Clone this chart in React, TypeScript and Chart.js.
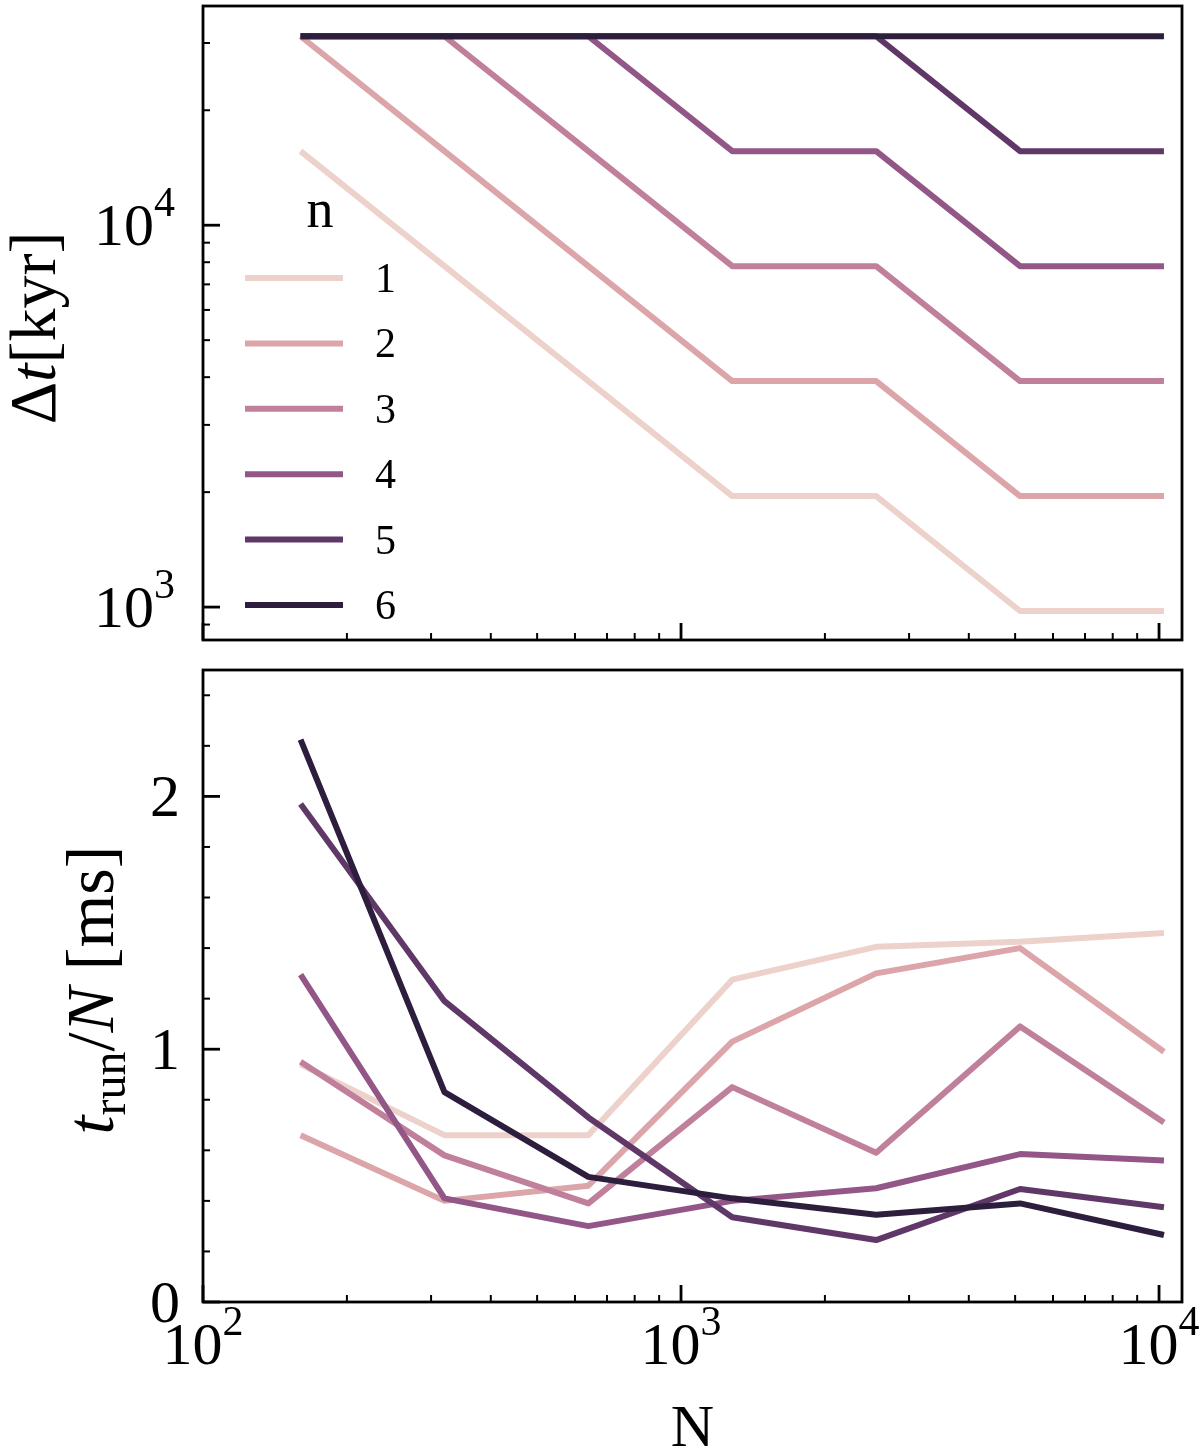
import React, { useEffect, useRef } from "react";
import { Chart, registerables } from "chart.js";

Chart.register(...registerables);

// particle counts N (shared x axis)
const particleCounts = [160, 320, 640, 1280, 2560, 5120, 10240];
const levels = ["1", "2", "3", "4", "5", "6"];
const palette = ["#edd1cb", "#dba5a9", "#c07f9b", "#925787", "#603868", "#2d1e3e"];

// top panel: time step Δt [kyr]
const stepN1 = [15625, 7812.5, 3906.25, 1953.125, 1953.125, 976.5625, 976.5625];
const stepN2 = [31250, 15625, 7812.5, 3906.25, 3906.25, 1953.125, 1953.125];
const stepN3 = [31250, 31250, 15625, 7812.5, 7812.5, 3906.25, 3906.25];
const stepN4 = [31250, 31250, 31250, 15625, 15625, 7812.5, 7812.5];
const stepN5 = [31250, 31250, 31250, 31250, 31250, 15625, 15625];
const stepN6 = [31250, 31250, 31250, 31250, 31250, 31250, 31250];

// bottom panel: run time per particle [ms]
const runN1 = [0.94, 0.66, 0.66, 1.275, 1.405, 1.425, 1.46];
const runN2 = [0.66, 0.4, 0.46, 1.03, 1.3, 1.4, 0.99];
const runN3 = [0.95, 0.58, 0.39, 0.85, 0.59, 1.09, 0.71];
const runN4 = [1.295, 0.41, 0.3, 0.4, 0.45, 0.585, 0.56];
const runN5 = [1.97, 1.19, 0.73, 0.335, 0.245, 0.447, 0.375];
const runN6 = [2.225, 0.83, 0.495, 0.41, 0.345, 0.39, 0.265];

const stepSeries = [stepN1, stepN2, stepN3, stepN4, stepN5, stepN6];
const runSeries = [runN1, runN2, runN3, runN4, runN5, runN6];

const SERIF = '"Liberation Serif", "DejaVu Serif", serif';

type Part = { text: string; size: number; italic?: boolean; dy?: number };

function drawParts(
  ctx: CanvasRenderingContext2D,
  parts: Part[],
  x: number,
  y: number,
  align: "left" | "center" | "right",
  angle = 0
) {
  ctx.save();
  ctx.translate(x, y);
  ctx.rotate(angle);
  ctx.fillStyle = "#000";
  ctx.textBaseline = "alphabetic";
  ctx.textAlign = "left";
  const widths = parts.map((p) => {
    ctx.font = `${p.italic ? "italic " : ""}${p.size}px ${SERIF}`;
    return ctx.measureText(p.text).width;
  });
  const total = widths.reduce((a, b) => a + b, 0);
  let cx = align === "left" ? 0 : align === "center" ? -total / 2 : -total;
  parts.forEach((p, i) => {
    ctx.font = `${p.italic ? "italic " : ""}${p.size}px ${SERIF}`;
    ctx.fillText(p.text, cx, p.dy || 0);
    cx += widths[i];
  });
  ctx.restore();
}

const pow10 = (e: number): Part[] => [
  { text: "10", size: 60 },
  { text: String(e), size: 42, dy: -29 },
];

function logTicks(min: number, max: number) {
  const major: number[] = [];
  const minor: number[] = [];
  for (let e = Math.floor(Math.log10(min)); e <= Math.ceil(Math.log10(max)); e++) {
    for (let m = 1; m <= 9; m++) {
      const v = m * Math.pow(10, e);
      if (v < min || v > max) continue;
      (m === 1 ? major : minor).push(v);
    }
  }
  return { major, minor };
}

type Decor = {
  xLabels: boolean;
  yMajor: number[];
  yMinor: number[];
  yLabel: (v: number) => Part[];
  yLabelGap: number;
  title: (ctx: CanvasRenderingContext2D, area: any) => void;
  legend?: boolean;
};

const makeDecor = (cfg: Decor) => ({
  id: "decor",
  afterDraw(chart: any) {
    const { ctx, chartArea: a, scales } = chart;
    const xs = scales.x;
    const ys = scales.y;
    ctx.save();
    ctx.strokeStyle = "#000";
    ctx.lineWidth = 2.8;
    ctx.strokeRect(a.left, a.top, a.right - a.left, a.bottom - a.top);

    const xt = logTicks(xs.min, xs.max);
    const tick = (x1: number, y1: number, x2: number, y2: number, w: number) => {
      ctx.lineWidth = w;
      ctx.beginPath();
      ctx.moveTo(x1, y1);
      ctx.lineTo(x2, y2);
      ctx.stroke();
    };
    xt.major.forEach((v) => {
      const px = xs.getPixelForValue(v);
      tick(px, a.bottom, px, a.bottom - 17, 2.8);
      if (cfg.xLabels) {
        drawParts(ctx, pow10(Math.round(Math.log10(v))), px, a.bottom + 62, "center");
      }
    });
    xt.minor.forEach((v) => {
      const px = xs.getPixelForValue(v);
      tick(px, a.bottom, px, a.bottom - 7, 2);
    });
    cfg.yMajor.forEach((v) => {
      const py = ys.getPixelForValue(v);
      tick(a.left, py, a.left + 17, py, 2.8);
      drawParts(ctx, cfg.yLabel(v), a.left - cfg.yLabelGap, py + 20, "right");
    });
    cfg.yMinor.forEach((v) => {
      const py = ys.getPixelForValue(v);
      tick(a.left, py, a.left + 7, py, 2);
    });

    cfg.title(ctx, a);

    if (cfg.legend) {
      drawParts(ctx, [{ text: "n", size: 54 }], 320, 227, "center");
      chart.data.datasets.forEach((ds: any, i: number) => {
        const y = 278 + 65.4 * i;
        ctx.strokeStyle = ds.borderColor;
        ctx.lineWidth = 6;
        ctx.lineCap = "butt";
        ctx.beginPath();
        ctx.moveTo(245, y);
        ctx.lineTo(343, y);
        ctx.stroke();
        drawParts(ctx, [{ text: ds.label, size: 42 }], 375, y + 14, "left");
      });
    }
    ctx.restore();
  },
});

const buildDatasets = (series: number[][]) =>
  series.map((vals, i) => ({
    label: levels[i],
    data: particleCounts.map((n, j) => ({ x: n, y: vals[j] })),
    borderColor: palette[i],
    backgroundColor: palette[i],
    borderWidth: 6,
    borderJoinStyle: "round" as const,
    borderCapStyle: "butt" as const,
    pointRadius: 0,
    tension: 0,
    order: levels.length - i,
  }));

const hidden = {
  grid: { display: false },
  border: { display: false },
  ticks: { display: false },
};

const App: React.FC = () => {
  const topRef = useRef<HTMLCanvasElement | null>(null);
  const bottomRef = useRef<HTMLCanvasElement | null>(null);

  useEffect(() => {
    const charts: Chart[] = [];
    const top = topRef.current;
    const bottom = bottomRef.current;
    if (top && bottom) {
      const topMinor = logTicks(820, 37500).minor;
      charts.push(
        new Chart(top, {
          type: "line",
          data: { datasets: buildDatasets(stepSeries) as any },
          options: {
            animation: false,
            responsive: false,
            maintainAspectRatio: false,
            layout: { padding: { left: 0, right: 18, top: 6, bottom: 0 } },
            plugins: { legend: { display: false }, tooltip: { enabled: false } },
            scales: {
              x: {
                type: "logarithmic",
                min: 100,
                max: 11170,
                ...hidden,
                afterFit: (s: any) => {
                  s.height = 20;
                },
              },
              y: {
                type: "logarithmic",
                min: 820,
                max: 37500,
                ...hidden,
                afterFit: (s: any) => {
                  s.width = 203;
                },
              },
            },
          },
          plugins: [
            makeDecor({
              xLabels: false,
              yMajor: [1000, 10000],
              yMinor: topMinor,
              yLabel: (v) => pow10(Math.round(Math.log10(v))),
              yLabelGap: 28,
              legend: true,
              title: (ctx, a) => {
                drawParts(
                  ctx,
                  [
                    { text: "Δ", size: 66 },
                    { text: "t", size: 66, italic: true },
                    { text: "[kyr]", size: 66 },
                  ],
                  55,
                  (a.top + a.bottom) / 2 + 5,
                  "center",
                  -Math.PI / 2
                );
              },
            }),
          ],
        } as any)
      );

      const runMinor: number[] = [];
      for (let v = 0.2; v < 2.5; v += 0.2) {
        const r = Math.round(v * 10) / 10;
        if (r % 1 !== 0) runMinor.push(r);
      }
      charts.push(
        new Chart(bottom, {
          type: "line",
          data: { datasets: buildDatasets(runSeries) as any },
          options: {
            animation: false,
            responsive: false,
            maintainAspectRatio: false,
            layout: { padding: { left: 0, right: 18, top: 10, bottom: 0 } },
            plugins: { legend: { display: false }, tooltip: { enabled: false } },
            scales: {
              x: {
                type: "logarithmic",
                min: 100,
                max: 11170,
                ...hidden,
                afterFit: (s: any) => {
                  s.height = 152;
                },
              },
              y: {
                type: "linear",
                min: 0,
                max: 2.5,
                ...hidden,
                afterFit: (s: any) => {
                  s.width = 203;
                },
              },
            },
          },
          plugins: [
            makeDecor({
              xLabels: true,
              yMajor: [0, 1, 2],
              yMinor: runMinor,
              yLabel: (v) => [{ text: String(v), size: 60 }],
              yLabelGap: 23,
              title: (ctx, a) => {
                drawParts(
                  ctx,
                  [
                    { text: "t", size: 68, italic: true },
                    { text: "run", size: 48, dy: 12 },
                    { text: "/", size: 68 },
                    { text: "N", size: 68, italic: true },
                    { text: " [ms]", size: 68 },
                  ],
                  113,
                  (a.top + a.bottom) / 2 + 4,
                  "center",
                  -Math.PI / 2
                );
                drawParts(ctx, [{ text: "N", size: 60 }], (a.left + a.right) / 2, a.bottom + 144, "center");
              },
            }),
          ],
        } as any)
      );
    }
    return () => {
      charts.forEach((c) => c.destroy());
    };
  }, []);

  return (
    <div style={{ position: "absolute", left: 0, top: 0, width: 1200, height: 1454, background: "#fff" }}>
      <canvas
        ref={topRef}
        width={1200}
        height={660}
        style={{ position: "absolute", left: 0, top: 0, width: 1200, height: 660 }}
      />
      <canvas
        ref={bottomRef}
        width={1200}
        height={794}
        style={{ position: "absolute", left: 0, top: 660, width: 1200, height: 794 }}
      />
    </div>
  );
};

export default App;
